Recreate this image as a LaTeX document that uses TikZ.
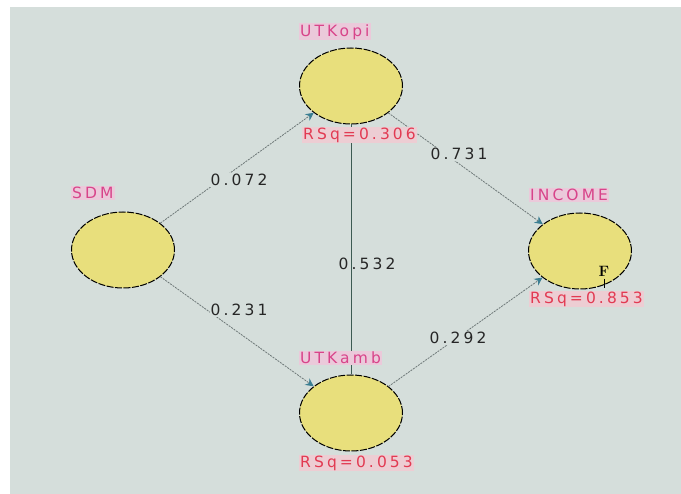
\documentclass[tikz,border=0pt]{standalone}
\usepackage{fontspec}
\usetikzlibrary{shapes.geometric,arrows.meta}
\newfontfamily\lblfont[LetterSpace=20]{DejaVu Sans}
\definecolor{bg}{HTML}{D5DEDB}
\definecolor{ellfill}{HTML}{E8DF7C}
\definecolor{namec}{HTML}{D8448A}
\definecolor{namebg}{HTML}{EBC9DA}
\definecolor{rsqc}{HTML}{E23A52}
\definecolor{rsqbg}{HTML}{EDCDD3}
\definecolor{linkc}{HTML}{6E7878}
\definecolor{tipc}{HTML}{3A7E92}
\definecolor{vlinec}{HTML}{3C5A52}
\tikzset{
  latent/.style={ellipse, draw=black, fill=ellfill, line width=1pt,
    dash pattern=on 7pt off 1.5pt, minimum width=103pt, minimum height=76pt, inner sep=0pt},
  lblbase/.style={font=\lblfont\fontsize{15.5}{15.5}\selectfont, inner sep=1pt},
  namelbl/.style={lblbase, anchor=west, text=namec, fill=namebg},
  rsqlbl/.style={lblbase, anchor=west, text=rsqc, fill=rsqbg},
  coeflbl/.style={lblbase, text=black!85},
  link/.style={draw=linkc, line width=0.8pt, dash pattern=on 2pt off 1pt,
    -{Stealth[length=8pt,width=8pt,color=tipc]}},
  solidlink/.style={draw=vlinec, line width=1pt}
}
\begin{document}
\begin{tikzpicture}[x=1pt,y=-1pt]
\useasboundingbox (0,0) rectangle (681,494);
\fill[bg] (10,7) rectangle (681,494);
% latent variables
\node[latent] (utkopi) at (351,86) {};
\node[latent] (sdm) at (123,250) {};
\node[latent] (income) at (580,251) {};
\node[latent] (utkamb) at (351,413) {};
% connectors
\draw[link] (sdm) -- (utkopi);
\draw[link] (sdm) -- (utkamb);
\draw[link] (utkopi) -- (income);
\draw[link] (utkamb) -- (income);
\draw[solidlink] (utkopi.south) -- (utkamb.north);
% coefficient labels
\node[coeflbl, fill=bg] (c1) at (239,180) {0.072};
\node[coeflbl, fill=bg] (c2) at (239,310) {0.231};
\node[coeflbl, fill=bg] (c3) at (459,154) {0.731};
\node[coeflbl, fill=bg] (c4) at (458,338) {0.292};
\node[coeflbl] (c5) at (367,264) {0.532};
% names
\node[namelbl] (n1) at (299,32) {UTKopi};
\node[namelbl] (n2) at (71,193) {SDM};
\node[namelbl] (n3) at (529,195) {INCOME};
\node[namelbl] (n4) at (299,358) {UTKamb};
% R squared
\node[rsqlbl] (r1) at (302,135) {RSq=0.306};
\node[rsqlbl] (r2) at (529,299) {RSq=0.853};
\node[rsqlbl] (r3) at (299,463) {RSq=0.053};
% F marker
\node[font=\fontsize{15}{15}\selectfont\bfseries, inner sep=0pt] (fm) at (604,271) {F};
\coordinate (fa) at (604,279);
\coordinate (fb) at (604,288);
\draw[black, line width=1pt] (fa) -- (fb);
\end{tikzpicture}
\end{document}
